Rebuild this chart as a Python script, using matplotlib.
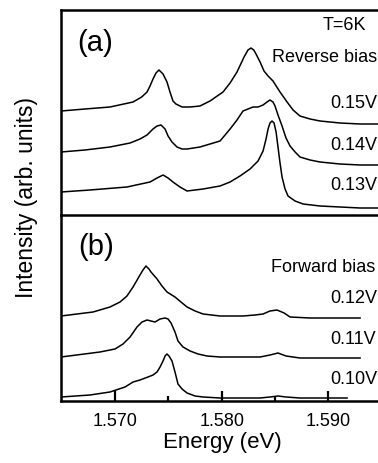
import matplotlib
matplotlib.use("Agg")
import matplotlib.pyplot as plt

plt.rcParams['font.family'] = ['Liberation Sans', 'DejaVu Sans']

# ---- panel (a): reverse bias spectra (energy in eV, intensity arb. units) ----
rev_labels = ["0.15V", "0.14V", "0.13V"]
rev_offsets = [91, 50, 7]

e_015 = [1.56494, 1.56719, 1.56953, 1.57169, 1.57250, 1.57300, 1.57328, 1.57356,
         1.57384, 1.57412, 1.57450, 1.57487, 1.57515, 1.57543, 1.57571, 1.57590,
         1.57628, 1.57703, 1.57796, 1.57890, 1.58012, 1.58078, 1.58143, 1.58209,
         1.58246, 1.58274, 1.58300, 1.58321, 1.58359, 1.58396, 1.58434, 1.58480,
         1.58546, 1.58612, 1.58668, 1.58733, 1.58827, 1.58921, 1.59108, 1.59296,
         1.59464, 1.59670]
i_015 = [13, 15, 17, 22, 27, 32, 38, 45, 51, 54, 50, 42, 32, 23, 20, 19,
         17, 17, 18, 23, 32, 41, 52, 67, 74, 76, 74, 70, 62, 53, 48, 43,
         32, 22, 14, 8, 5, 3, 1, 0, 0, 0]

e_014 = [1.56494, 1.56719, 1.56953, 1.57141, 1.57234, 1.57300, 1.57356, 1.57394,
         1.57431, 1.57469, 1.57497, 1.57534, 1.57581, 1.57628, 1.57675, 1.57796,
         1.57890, 1.57984, 1.58078, 1.58143, 1.58199, 1.58246, 1.58293, 1.58340,
         1.58387, 1.58424, 1.58452, 1.58480, 1.58499, 1.58527, 1.58565, 1.58602,
         1.58640, 1.58687, 1.58733, 1.58827, 1.58921, 1.59108, 1.59296, 1.59464,
         1.59670]
i_014 = [13, 15, 18, 22, 26, 30, 36, 39, 40, 36, 29, 23, 18, 16, 16, 18,
         21, 24, 36, 45, 54, 56, 58, 58, 60, 63, 65, 63, 59, 50, 39, 27,
         19, 13, 8, 5, 3, 1, 0, 0, 0]

e_013 = [1.56494, 1.56766, 1.57112, 1.57328, 1.57394, 1.57450, 1.57497, 1.57543,
         1.57609, 1.57675, 1.57750, 1.57825, 1.57984, 1.58078, 1.58171, 1.58265,
         1.58340, 1.58387, 1.58415, 1.58434, 1.58452, 1.58471, 1.58490, 1.58509,
         1.58527, 1.58546, 1.58565, 1.58593, 1.58621, 1.58687, 1.58762, 1.58921,
         1.59108, 1.59296, 1.59464, 1.59670]
i_013 = [16, 18, 21, 26, 30, 33, 30, 26, 21, 17, 18, 19, 22, 26, 32, 39,
         47, 57, 69, 79, 85, 87, 85, 76, 61, 45, 31, 19, 12, 7, 4, 2,
         1, 0, 0, 0]

# ---- panel (b): forward bias spectra ----
fwd_labels = ["0.12V", "0.11V", "0.10V"]
fwd_offsets = [83, 43, 3]

e_012 = [1.56494, 1.56794, 1.56953, 1.57047, 1.57112, 1.57169, 1.57234, 1.57262,
         1.57290, 1.57318, 1.57337, 1.57394, 1.57440, 1.57487, 1.57562, 1.57618,
         1.57675, 1.57750, 1.57825, 1.57984, 1.58199, 1.58312, 1.58387, 1.58452,
         1.58518, 1.58584, 1.58640, 1.58827, 1.59296]
i_012 = [2, 6, 11, 16, 22, 31, 43, 48, 52, 49, 46, 39, 32, 26, 21, 16,
         11, 7, 4, 2, 2, 3, 4, 7, 8, 5, 1, 0, 0]

e_011 = [1.56494, 1.56859, 1.57000, 1.57075, 1.57141, 1.57206, 1.57253, 1.57300,
         1.57337, 1.57375, 1.57422, 1.57469, 1.57497, 1.57525, 1.57562, 1.57590,
         1.57637, 1.57703, 1.57778, 1.57862, 1.57984, 1.58359, 1.58452, 1.58527,
         1.58602, 1.58733, 1.59296]
i_011 = [1, 6, 9, 14, 21, 31, 36, 38, 37, 36, 39, 40, 39, 35, 26, 17,
         11, 7, 4, 2, 1, 1, 3, 5, 2, 0, 0]

e_010 = [1.56494, 1.56766, 1.56953, 1.57094, 1.57169, 1.57234, 1.57309, 1.57356,
         1.57394, 1.57422, 1.57450, 1.57469, 1.57487, 1.57506, 1.57534, 1.57562,
         1.57590, 1.57628, 1.57675, 1.57750, 1.57825, 1.57984, 1.58359, 1.58452,
         1.58527, 1.58602, 1.58733, 1.59174]
i_010 = [1, 3, 6, 11, 16, 18, 21, 23, 26, 31, 37, 42, 44, 42, 37, 26,
         14, 9, 5, 2, 1, 0, 0, 1, 2, 1, 0, 0]

rev_data = [(e_015, i_015), (e_014, i_014), (e_013, i_013)]
fwd_data = [(e_012, i_012), (e_011, i_011), (e_010, i_010)]

xticks_major = [1.570, 1.580, 1.590]
xticks_minor = [1.575, 1.585]
xtick_labels = ["1.570", "1.580", "1.590"]

W, H = 378, 464
fig = plt.figure(figsize=(W / 100, H / 100), dpi=100)

left = 61 / W
width = (400 - 61) / W  # right edge runs off the picture
ax_a = fig.add_axes([left, 1 - 216 / H, width, 205 / H])
ax_b = fig.add_axes([left, 1 - 402 / H, width, 186 / H])

xlim = (1.56494, 1.59670)

for ax, data, offs, ylim in [(ax_a, rev_data, rev_offsets, 205),
                             (ax_b, fwd_data, fwd_offsets, 186)]:
    ax.set_facecolor('none')
    for (e, inten), off in zip(data, offs):
        ax.plot(e, [v + off for v in inten], color='black', lw=1.1,
                solid_joinstyle='round')
    ax.set_xlim(*xlim)
    ax.set_ylim(0, ylim)
    ax.set_yticks([])
    ax.spines['right'].set_visible(False)
    for s in ax.spines.values():
        s.set_linewidth(1.8)

ax_a.set_xticks([])
ax_b.spines['top'].set_visible(False)
ax_b.set_xticks(xticks_major)
ax_b.set_xticklabels(xtick_labels)
ax_b.set_xticks(xticks_minor, minor=True)
ax_b.tick_params(axis='x', which='major', direction='in', length=7, width=1.6,
                 labelsize=13, pad=8)
ax_b.tick_params(axis='x', which='minor', direction='in', length=3.5, width=1.6)

def ftext(px, py, s, size=13, **kw):
    fig.text(px / W, 1 - py / H, s, fontsize=size, va='center', ha='left', **kw)

ftext(77, 43, "(a)", size=21)
ftext(323, 25, "T=6K")
ftext(272, 57, "Reverse bias")
for lab, y in zip(rev_labels, [103, 146, 185]):
    ftext(330, y, lab)

ftext(78, 247, "(b)", size=21)
ftext(271, 267, "Forward bias")
for lab, y in zip(fwd_labels, [299, 340, 380]):
    ftext(330, y, lab)

fig.text(27 / W, 1 - 198 / H, "Intensity (arb. units)", fontsize=16.5,
         rotation=90, ha='center', va='center')
fig.text(222 / W, 1 - 443 / H, "Energy (eV)", fontsize=16,
         ha='center', va='center')

fig.savefig("out.png", dpi=100)
